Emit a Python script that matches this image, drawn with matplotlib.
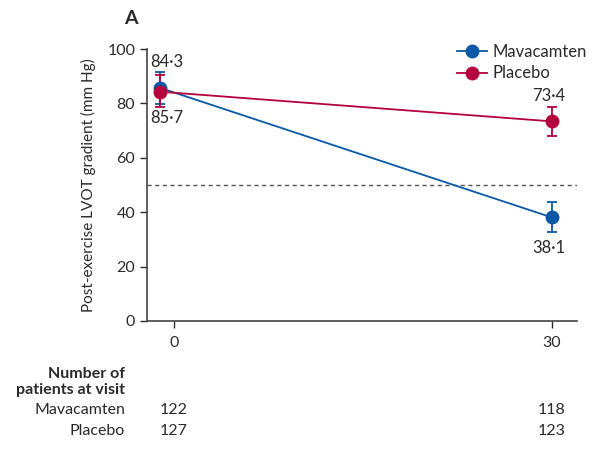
import numpy as np
import matplotlib.pyplot as plt
from matplotlib.lines import Line2D

plt.rcParams['font.family'] = ['Lato', 'DejaVu Sans']

# data
weeks = [0, 30]
plot_pos = [-1.1, 30]          # baseline points drawn slightly left of the tick, as in the source
mava = [85.7, 38.1]
mava_lo = [79.8, 32.6]
mava_hi = [91.7, 43.9]
plac = [84.3, 73.4]
plac_lo = [78.6, 68.0]
plac_hi = [90.4, 78.6]
n_mava = [122, 118]
n_plac = [127, 123]

blue = '#0a58a6'
red = '#b4023f'
txt = '#2a2a2a'

fig = plt.figure(figsize=(6.04, 4.59), dpi=100)
ax = fig.add_axes([0.2434, 0.3007, 0.955 - 0.2434, 0.8932 - 0.3007])

def draw(y, lo, hi, col):
    y = np.array(y)
    err = [y - np.array(lo), np.array(hi) - y]
    ax.errorbar(plot_pos, y, yerr=err, color=col, marker='o', markersize=9,
                lw=1.3, elinewidth=1.3, capsize=3.5, capthick=1.3)

draw(mava, mava_lo, mava_hi, blue)
draw(plac, plac_lo, plac_hi, red)

ax.axhline(50, color='#555555', lw=1, ls=(0, (3, 2.5)))

ax.set_xlim(-2.15, 32)
ax.set_ylim(0, 100)
ax.set_yticks([0, 20, 40, 60, 80, 100])
ax.set_xticks(weeks)
ax.tick_params(labelsize=11.5, colors=txt, length=5, width=1)
ax.tick_params(axis='x', pad=6)
for s in ['top', 'right']:
    ax.spines[s].set_visible(False)
for s in ['left', 'bottom']:
    ax.spines[s].set_color('#444444')
    ax.spines[s].set_linewidth(1.2)
ax.set_ylabel('Post-exercise LVOT gradient (mm Hg)', fontsize=11, labelpad=8, color=txt)

# value labels
lx = plot_pos[0] + 0.55
ax.text(lx, plac[0] + 11, '84·3', ha='center', va='center', fontsize=12, color=txt)
ax.text(lx, mava[0] - 11, '85·7', ha='center', va='center', fontsize=12, color=txt)
ax.text(plot_pos[1] - 0.2, plac[1] + 9.3, '73·4', ha='center', va='center', fontsize=12, color=txt)
ax.text(plot_pos[1] - 0.2, mava[1] - 11.3, '38·1', ha='center', va='center', fontsize=12, color=txt)

handles = [Line2D([], [], color=blue, marker='o', markersize=9, lw=1.3),
           Line2D([], [], color=red, marker='o', markersize=9, lw=1.3)]
ax.legend(handles, ['Mavacamten', 'Placebo'], loc='upper right', bbox_to_anchor=(1.058, 1.075),
          frameon=False, fontsize=12, handlelength=1.8, handletextpad=0.3, labelspacing=0.35,
          labelcolor=txt)

fig.text(0.205, 0.96, 'A', fontsize=14, fontweight='bold', ha='left', va='center', color=txt)

# number of patients table
tr = ax.get_xaxis_transform()
ax.text(-0.051, -0.195, 'Number of', transform=ax.transAxes, ha='right', va='center',
        fontsize=11.5, fontweight='bold', color=txt)
ax.text(-0.051, -0.254, 'patients at visit', transform=ax.transAxes, ha='right', va='center',
        fontsize=11.5, fontweight='bold', color=txt)
ax.text(-0.051, -0.327, 'Mavacamten', transform=ax.transAxes, ha='right', va='center',
        fontsize=11.5, color=txt)
ax.text(-0.051, -0.404, 'Placebo', transform=ax.transAxes, ha='right', va='center',
        fontsize=11.5, color=txt)
for w, a, b in zip(weeks, n_mava, n_plac):
    ax.text(w, -0.327, str(a), transform=tr, ha='center', va='center', fontsize=11.5,
            color=txt, clip_on=False)
    ax.text(w, -0.404, str(b), transform=tr, ha='center', va='center', fontsize=11.5,
            color=txt, clip_on=False)

fig.savefig('out.png', dpi=100)
